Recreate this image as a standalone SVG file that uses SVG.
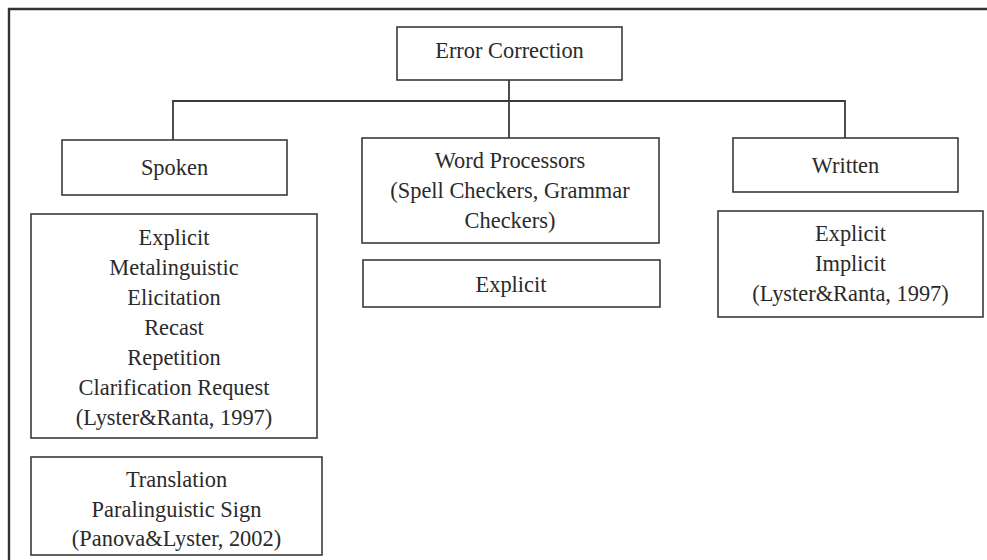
<svg xmlns="http://www.w3.org/2000/svg" width="987" height="560" viewBox="0 0 987 560">
<style>
rect{fill:#fff;stroke:#3a3a3a;stroke-width:1.6}
.c{stroke:#3a3a3a;stroke-width:1.8;fill:none}
text{font-family:"Liberation Serif","Times New Roman",serif;font-size:22.4px;fill:#2a2a2a;text-anchor:middle}
</style>
<rect x="0" y="0" width="987" height="560" style="stroke:none"/>
<path d="M9,560 V9 H987" style="stroke:#333;stroke-width:2.4;fill:none"/>
<g id="connectors">
<path class="c" d="M509,80 V138"/>
<path class="c" d="M173,140 V101 H845 V138"/>
</g>
<g id="error-correction"><rect x="397" y="27" width="225" height="53"/><text x="509.5" y="58">Error Correction</text></g>
<g id="spoken"><rect x="62" y="140" width="225" height="55"/><text x="174.5" y="175">Spoken</text></g>
<g id="spoken-types"><rect x="31" y="214" width="286" height="224"/>
<text x="174" y="245">Explicit</text><text x="174" y="275">Metalinguistic</text><text x="174" y="305">Elicitation</text><text x="174" y="335">Recast</text><text x="174" y="365">Repetition</text><text x="174" y="395">Clarification Request</text><text x="174" y="425">(Lyster&amp;Ranta, 1997)</text></g>
<g id="spoken-extra"><rect x="31" y="457" width="291" height="98"/>
<text x="176.5" y="487">Translation</text><text x="176.5" y="517">Paralinguistic Sign</text><text x="176.5" y="546">(Panova&amp;Lyster, 2002)</text></g>
<g id="word-processors"><rect x="362" y="138" width="297" height="105"/>
<text x="510" y="168">Word Processors</text><text x="510" y="198">(Spell Checkers, Grammar</text><text x="510" y="228">Checkers)</text></g>
<g id="wp-explicit"><rect x="363" y="260" width="297" height="47"/><text x="511" y="292">Explicit</text></g>
<g id="written"><rect x="733" y="138" width="225" height="54"/><text x="845.5" y="173">Written</text></g>
<g id="written-types"><rect x="718" y="211" width="265" height="106"/>
<text x="850.5" y="241">Explicit</text><text x="850.5" y="271">Implicit</text><text x="850.5" y="301">(Lyster&amp;Ranta, 1997)</text></g>
</svg>
